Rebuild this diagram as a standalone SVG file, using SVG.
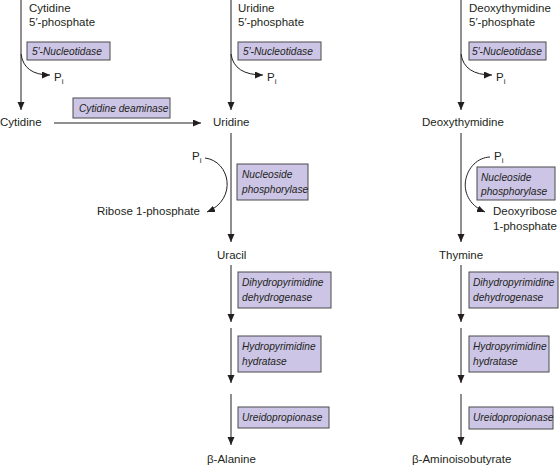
<svg xmlns="http://www.w3.org/2000/svg" width="560" height="467" viewBox="0 0 560 467">
<defs>
<style>
text{font-family:"Liberation Sans","DejaVu Sans",sans-serif;font-size:11.5px;fill:#231f20}
.e{font-style:italic;font-size:10.2px}
.box{fill:#ccc5e6;stroke:#4a4a4a;stroke-width:1}
.ln{fill:none;stroke:#231f20;stroke-width:1}
.sub{font-size:8px}
</style>
<marker id="ah" markerUnits="userSpaceOnUse" markerWidth="9" markerHeight="8" refX="8" refY="3.5" orient="auto">
<path d="M0,0 L8,3.5 L0,7 z" fill="#231f20"/>
</marker>
</defs>
<rect width="560" height="467" fill="#fff"/>

<g id="connectors">
<path class="ln" d="M21,0 V110" marker-end="url(#ah)"/>
<path class="ln" d="M21,54 Q24,75 50,75" marker-end="url(#ah)"/>
<path class="ln" d="M54,123 H201" marker-end="url(#ah)"/>
<path class="ln" d="M231,0 V110" marker-end="url(#ah)"/>
<path class="ln" d="M231,54 Q234,75 263,75" marker-end="url(#ah)"/>
<path class="ln" d="M231,133 V242" marker-end="url(#ah)"/>
<path class="ln" d="M205,158 C230,161 238,199 207,212" marker-end="url(#ah)"/>
<path class="ln" d="M231,265 V322" marker-end="url(#ah)"/>
<path class="ln" d="M231,328 V383" marker-end="url(#ah)"/>
<path class="ln" d="M231,394 V445" marker-end="url(#ah)"/>
<path class="ln" d="M461,0 V110" marker-end="url(#ah)"/>
<path class="ln" d="M461,54 Q464,75 492,75" marker-end="url(#ah)"/>
<path class="ln" d="M461,133 V242" marker-end="url(#ah)"/>
<path class="ln" d="M490,157 C465,158 452,198 485,212" marker-end="url(#ah)"/>
<path class="ln" d="M461,265 V322" marker-end="url(#ah)"/>
<path class="ln" d="M461,328 V383" marker-end="url(#ah)"/>
<path class="ln" d="M461,394 V445" marker-end="url(#ah)"/>
</g>

<g id="cmp">
<text x="29" y="12">Cytidine</text>
<text x="29" y="26">5′-phosphate</text>
</g>
<g id="ump">
<text x="238" y="12">Uridine</text>
<text x="238" y="26">5′-phosphate</text>
</g>
<g id="dtmp">
<text x="469" y="12">Deoxythymidine</text>
<text x="469" y="26">5′-phosphate</text>
</g>

<g id="nuc1"><rect class="box" x="27" y="42" width="83" height="18"/><text class="e" x="32" y="55">5′-Nucleotidase</text></g>
<g id="nuc2"><rect class="box" x="238" y="42" width="83" height="18"/><text class="e" x="243" y="55">5′-Nucleotidase</text></g>
<g id="nuc3"><rect class="box" x="469" y="42" width="77" height="18"/><text class="e" x="472" y="55">5′-Nucleotidase</text></g>

<g id="pi1"><text x="54" y="81">P<tspan class="sub" dy="3">i</tspan></text></g>
<g id="pi2"><text x="267" y="81">P<tspan class="sub" dy="3">i</tspan></text></g>
<g id="pi3"><text x="496" y="81">P<tspan class="sub" dy="3">i</tspan></text></g>

<g id="cytidine"><text x="0" y="126">Cytidine</text></g>
<g id="cda"><rect class="box" x="73" y="98" width="97" height="20"/><text class="e" x="79" y="112">Cytidine deaminase</text></g>
<g id="uridine"><text x="213" y="126">Uridine</text></g>
<g id="deoxythymidine"><text x="422" y="126">Deoxythymidine</text></g>

<g id="pi4"><text x="192" y="160">P<tspan class="sub" dy="3">i</tspan></text></g>
<g id="np1"><rect class="box" x="237" y="164" width="71" height="36"/><text class="e" x="242" y="178">Nucleoside</text><text class="e" x="242" y="193">phosphorylase</text></g>
<g id="r1p"><text x="97" y="215">Ribose 1-phosphate</text></g>

<g id="pi5"><text x="494" y="160">P<tspan class="sub" dy="3">i</tspan></text></g>
<g id="np2"><rect class="box" x="477" y="167" width="78" height="33"/><text class="e" x="481" y="181">Nucleoside</text><text class="e" x="481" y="195">phosphorylase</text></g>
<g id="dr1p"><text x="493" y="215">Deoxyribose</text><text x="493" y="230">1-phosphate</text></g>

<g id="uracil"><text x="217" y="259">Uracil</text></g>
<g id="thymine"><text x="439" y="259">Thymine</text></g>

<g id="dpd1"><rect class="box" x="238" y="272" width="93" height="36"/><text class="e" x="242" y="286">Dihydropyrimidine</text><text class="e" x="242" y="301">dehydrogenase</text></g>
<g id="hph1"><rect class="box" x="238" y="336" width="83" height="36"/><text class="e" x="242" y="350">Hydropyrimidine</text><text class="e" x="242" y="365">hydratase</text></g>
<g id="urp1"><rect class="box" x="238" y="407" width="91" height="21"/><text class="e" x="242" y="421">Ureidopropionase</text></g>
<g id="balanine"><text x="207" y="463">β-Alanine</text></g>

<g id="dpd2"><rect class="box" x="469" y="272" width="89" height="36"/><text class="e" x="473" y="286">Dihydropyrimidine</text><text class="e" x="473" y="301">dehydrogenase</text></g>
<g id="hph2"><rect class="box" x="469" y="336" width="80" height="36"/><text class="e" x="473" y="350">Hydropyrimidine</text><text class="e" x="473" y="365">hydratase</text></g>
<g id="urp2"><rect class="box" x="469" y="407" width="84" height="22"/><text class="e" x="473" y="421">Ureidopropionase</text></g>
<g id="baib"><text x="412" y="463">β-Aminoisobutyrate</text></g>
</svg>
